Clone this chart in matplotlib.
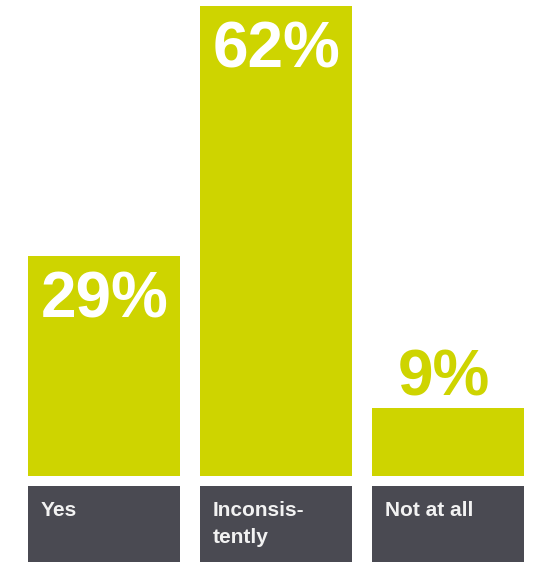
import matplotlib
matplotlib.use("Agg")
import matplotlib.pyplot as plt
from matplotlib import transforms

categories = ["Yes", "Inconsis-\ntently", "Not at all"]
values = [29, 62, 9]
value_labels = ["29%", "62%", "9%"]
label_inside = [True, True, False]

BAR_COLOR = "#CED400"
BOX_COLOR = "#4A4A52"
FONT = ["Liberation Sans", "DejaVu Sans"]

W, H, DPI = 539, 562, 100
fig = plt.figure(figsize=(W / DPI, H / DPI), dpi=DPI)
ax = fig.add_axes([0, 0, 1, 1])

px_per_unit_y = 7.58          # pixels per percentage point
base_px = 476                 # pixel row of the bars' baseline (from top)
step_px = 172                 # pixel distance between category centres
first_center_px = 104
bar_width = 152 / step_px

x = list(range(len(categories)))
ax.set_xlim(-first_center_px / step_px, (W - first_center_px) / step_px)
ax.set_ylim(-(H - base_px) / px_per_unit_y, base_px / px_per_unit_y)
ax.axis("off")

ax.bar(x, values, width=bar_width, color=BAR_COLOR, linewidth=0)

# dark category boxes below the bars
box_top = -(486 - base_px) / px_per_unit_y
box_bottom = -(H - base_px) / px_per_unit_y
ax.bar(x, [box_top - box_bottom] * len(x), bottom=box_bottom, width=bar_width,
       color=BOX_COLOR, linewidth=0)

for xi, v, lab, inside, cat in zip(x, values, value_labels, label_inside, categories):
    left = xi - bar_width / 2
    if inside:
        off = transforms.offset_copy(ax.transData, fig=fig, x=13, y=-61, units="dots")
        ax.text(left, v, lab, transform=off, ha="left", va="baseline",
                fontsize=46, fontweight="bold", color="white", family=FONT)
    else:
        off = transforms.offset_copy(ax.transData, fig=fig, x=-4, y=12, units="dots")
        ax.text(xi, v, lab, transform=off, ha="center", va="baseline",
                fontsize=46, fontweight="bold", color=BAR_COLOR, family=FONT)
    for i, line in enumerate(cat.split("\n")):
        off_i = transforms.offset_copy(ax.transData, fig=fig, x=13,
                                       y=-(516 - 486) - 27 * i, units="dots")
        ax.text(left, box_top, line, transform=off_i, ha="left", va="baseline",
                fontsize=15, fontweight="bold", color="#F2F2F2", family=FONT)

fig.savefig("out.png", dpi=DPI, facecolor="white")
